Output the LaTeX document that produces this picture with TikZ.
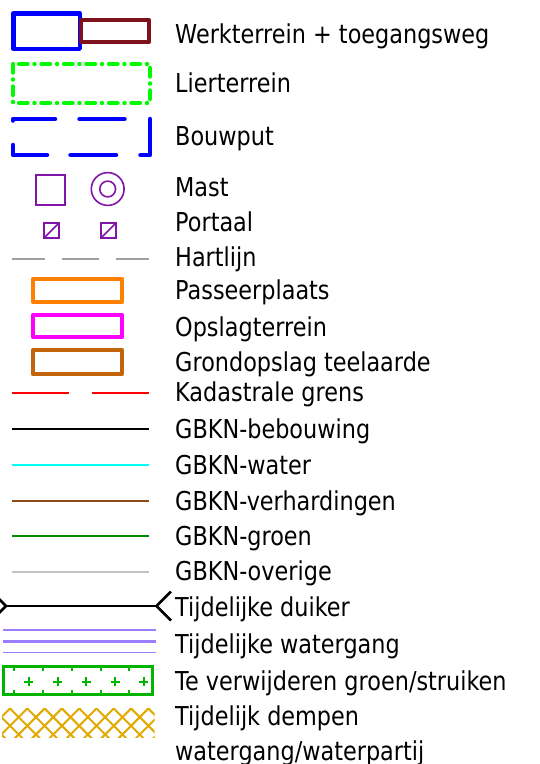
\documentclass[tikz,border=0pt]{standalone}
\usepackage{fontspec}
\setmainfont[FakeStretch=0.86]{DejaVu Sans}
\definecolor{cblue}{RGB}{0,0,255}
\definecolor{cmaroon}{RGB}{125,18,28}
\definecolor{clime}{RGB}{0,250,0}
\definecolor{cpurple}{RGB}{130,20,170}
\definecolor{cgreyA}{RGB}{160,160,160}
\definecolor{corange}{RGB}{255,128,0}
\definecolor{cmagenta}{RGB}{255,0,255}
\definecolor{cbrownA}{RGB}{195,100,10}
\definecolor{cred}{RGB}{255,0,0}
\definecolor{ccyan}{RGB}{0,255,255}
\definecolor{cbrownB}{RGB}{140,75,20}
\definecolor{cgreenA}{RGB}{0,140,0}
\definecolor{cgreyB}{RGB}{195,195,195}
\definecolor{clav}{RGB}{155,125,255}
\definecolor{cgreenB}{RGB}{0,180,0}
\definecolor{chatch}{RGB}{225,170,0}
\begin{document}
\begin{tikzpicture}[x=1pt,y=-1pt,
  lbl/.style={anchor=base west, inner sep=0pt, font=\fontsize{26}{30}\selectfont},
  thickbox/.style={line width=4.5pt, line join=round},
  thinline/.style={line width=1.8pt},
  plusmark/.style={line width=2pt, cgreenB}]
\useasboundingbox (0,0) rectangle (540,764);

% Werkterrein + toegangsweg
\draw[thickbox, cblue] (13.25,13.25) rectangle (79.75,48.75);
\draw[line width=4pt, line join=round, cmaroon] (81,20) rectangle (149,42);
% Lierterrein
\draw[thickbox, clime, line cap=round, dash pattern=on 8.5pt off 7pt on 0pt off 7pt] (13,64) rectangle (150,103);
% Bouwput
\begin{scope}[thickbox, cblue, line cap=round]
\draw (13,120.5) -- (13,119) -- (55,119);
\draw (79.5,119) -- (124.5,119);
\draw (150,119) -- (150,155) -- (140.5,155);
\draw (13,145) -- (13,155) -- (47,155);
\draw (70.5,155) -- (116,155);
\end{scope}
% Mast
\draw[line width=1.6pt, cpurple] (36,175) rectangle (65,205);
\draw[line width=1.6pt, cpurple] (107.7,189) circle (16.4) (107.7,189) circle (7.9);
% Portaal
\draw[line width=1.6pt, cpurple] (44,223) rectangle (59,238) (44,238) -- (59,223);
\draw[line width=1.6pt, cpurple] (101,223) rectangle (116,238) (101,238) -- (116,223);
% Hartlijn
\draw[line width=2pt, cgreyA] (12,259) -- (44.5,259) (62,259) -- (99,259) (116,259) -- (149,259);
% Passeerplaats, Opslagterrein, Grondopslag
\draw[thickbox, corange] (33,279) rectangle (122,302);
\draw[thickbox, cmagenta] (33,315) rectangle (122,337);
\draw[thickbox, cbrownA] (33,350) rectangle (122,374);
% lines
\draw[thinline, cred] (12,393) -- (69,393) (92,393) -- (149,393);
\draw[thinline, black] (12,428.7) -- (149,428.7);
\draw[thinline, ccyan] (12,465) -- (149,465);
\draw[thinline, cbrownB] (12,500.7) -- (149,500.7);
\draw[thinline, cgreenA] (12,536.3) -- (149,536.3);
\draw[thinline, cgreyB] (12,572.3) -- (149,572.3);
% Tijdelijke duiker
\draw[line width=2.5pt, black, line join=miter] (-8,592) -- (6,606) -- (-8,620);
\draw[line width=2.5pt, black] (6,606) -- (156.5,606);
\draw[line width=2.5pt, black, line join=miter] (171,591.5) -- (156.5,606) -- (171,620.5);
% Tijdelijke watergang
\draw[line width=1.5pt, clav] (3.3,630) -- (155.7,630);
\draw[line width=2.5pt, clav] (3.3,641.3) -- (155.7,641.3);
\draw[line width=1.5pt, clav] (3.3,652.7) -- (155.7,652.7);
% Te verwijderen groen/struiken
\begin{scope}
\clip (3.2,666.5) rectangle (152.8,694.5);
\foreach \k in {0,...,4} {
  \draw[plusmark] ({14.3+\k*28.75-4.5},666.5) -- ({14.3+\k*28.75+4.5},666.5)
                  ({14.3+\k*28.75},662) -- ({14.3+\k*28.75},671);
  \draw[plusmark] ({14.3+\k*28.75-4.5},694.5) -- ({14.3+\k*28.75+4.5},694.5)
                  ({14.3+\k*28.75},690) -- ({14.3+\k*28.75},699);
  \draw[plusmark] ({28.9+\k*28.75-4.5},681.5) -- ({28.9+\k*28.75+4.5},681.5)
                  ({28.9+\k*28.75},677) -- ({28.9+\k*28.75},686);
}
\draw[plusmark] (-4.5,681.5) -- (4.5,681.5);
\end{scope}
\draw[line width=3pt, cgreenB] (3.2,666.5) rectangle (152.8,694.5);
% Tijdelijk dempen
\begin{scope}
\clip (2,708) rectangle (154.5,737.5);
\foreach \k in {-3,...,12} {
  \draw[line width=2pt, chatch] ({10+\k*17.3-40},668.5) -- ({10+\k*17.3+40},748.5);
  \draw[line width=2pt, chatch] ({10+\k*17.3+40},668.5) -- ({10+\k*17.3-40},748.5);
}
\end{scope}

% labels
\node[lbl] (t1) at (175,43.3) {Werkterrein + toegangsweg};
\node[lbl] (t2) at (175,92.7) {Lierterrein};
\node[lbl] (t3) at (175,145) {Bouwput};
\node[lbl] (t4) at (175,196) {Mast};
\node[lbl] (t5) at (175,231.7) {Portaal};
\node[lbl] (t6) at (175,266.7) {Hartlijn};
\node[lbl] (t7) at (175,299.3) {Passeerplaats};
\node[lbl] (t8) at (175,336) {Opslagterrein};
\node[lbl] (t9) at (175,371.7) {Grondopslag teelaarde};
\node[lbl] (t10) at (175,401.7) {Kadastrale grens};
\node[lbl] (t11) at (175,438.3) {GBKN-bebouwing};
\node[lbl] (t12) at (175,474.3) {GBKN-water};
\node[lbl] (t13) at (175,510) {GBKN-verhardingen};
\node[lbl] (t14) at (175,545) {GBKN-groen};
\node[lbl] (t15) at (175,580) {GBKN-overige};
\node[lbl] (t16) at (175,616.7) {Tijdelijke duiker};
\node[lbl] (t17) at (175,653.3) {Tijdelijke watergang};
\node[lbl] (t18) at (175,690) {Te verwijderen groen/struiken};
\node[lbl] (t19) at (175,725) {Tijdelijk dempen};
\node[lbl] (t20) at (175,760) {watergang/waterpartij};
\end{tikzpicture}
\end{document}
